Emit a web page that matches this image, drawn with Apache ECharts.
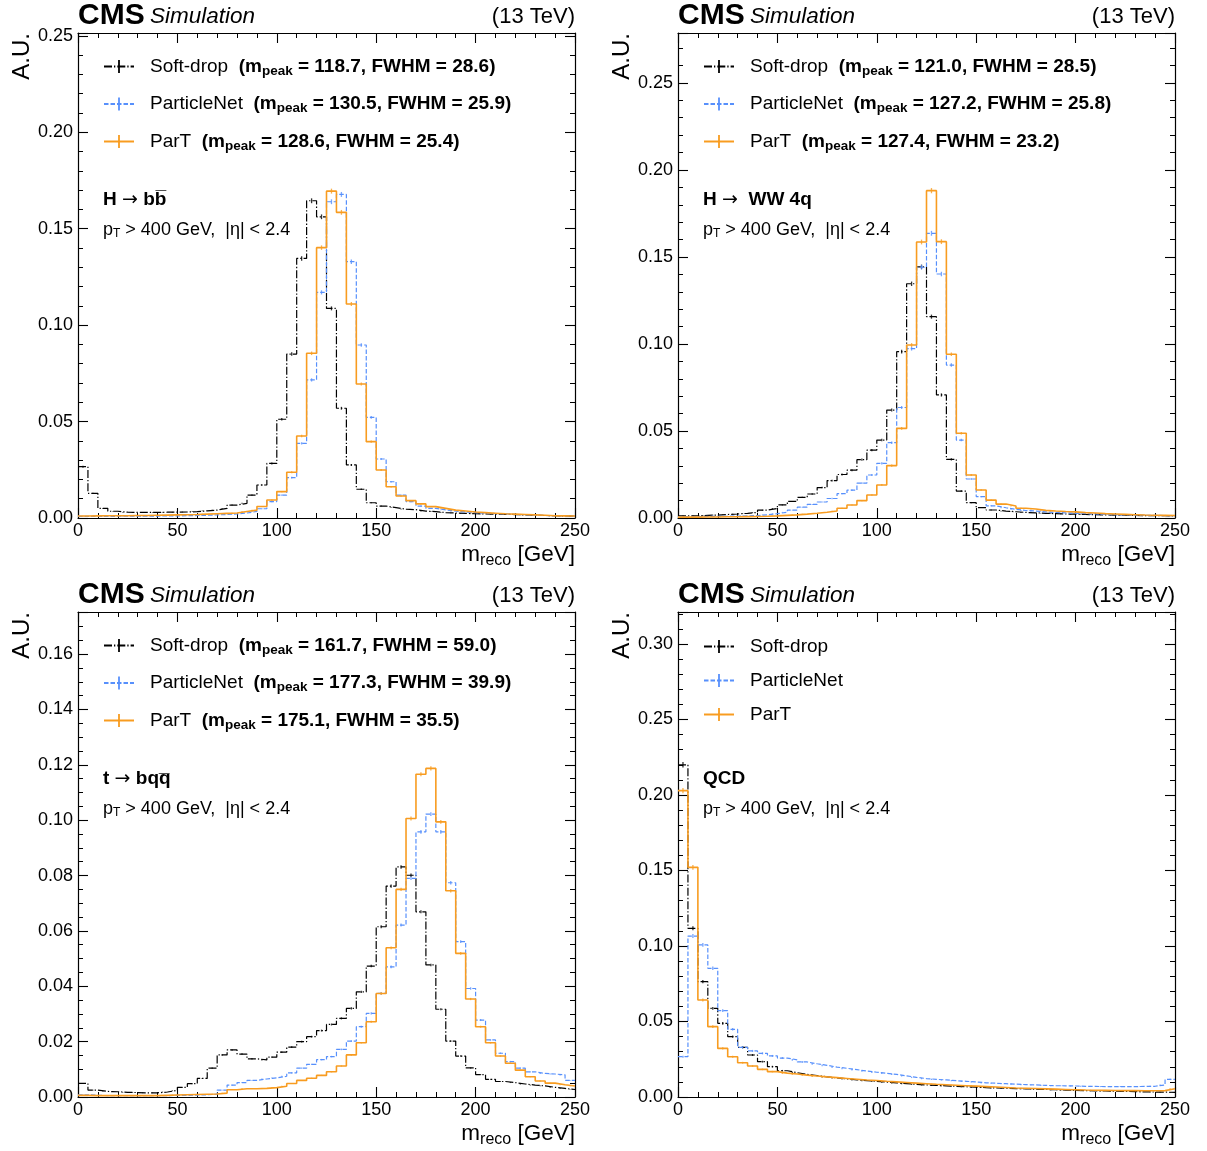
<!DOCTYPE html>
<html><head><meta charset="utf-8">
<script src="https://cdn.jsdelivr.net/npm/echarts@6/dist/echarts.min.js"></script>
<style>html,body{margin:0;padding:0;background:#fff}#c{width:1207px;height:1151px}</style>
</head><body><div id="c"></div>
<script>
// ---------------- DATA ----------------
const binLow = [0,5,10,15,20,25,30,35,40,45,50,55,60,65,70,75,80,85,90,95,100,105,110,115,120,125,130,135,140,145,150,155,160,165,170,175,180,185,190,195,200,205,210,215,220,225,230,235,240,245];
const binWidth = 5;

const seriesNames = ['Soft-drop','ParticleNet','ParT'];

// H -> bb
const hbb_sd   = [0.0266,0.0128,0.0050,0.0035,0.0030,0.0029,0.0029,0.0029,0.0030,0.0030,0.0031,0.0033,0.0037,0.0041,0.0050,0.0067,0.0076,0.0119,0.0171,0.0283,0.0512,0.0850,0.1346,0.1645,0.1562,0.1087,0.0569,0.0275,0.0149,0.0079,0.0062,0.0054,0.0046,0.0043,0.0036,0.0033,0.0028,0.0026,0.0024,0.0022,0.0021,0.0020,0.0019,0.0018,0.0016,0.0015,0.0013,0.0012,0.0011,0.0010];
const hbb_pnet = [0.0008,0.0008,0.0008,0.0009,0.0009,0.0009,0.0010,0.0010,0.0011,0.0011,0.0012,0.0013,0.0014,0.0016,0.0018,0.0021,0.0026,0.0034,0.0048,0.0085,0.0119,0.0209,0.0387,0.0716,0.1170,0.1640,0.1678,0.1329,0.0897,0.0522,0.0306,0.0188,0.0119,0.0085,0.0062,0.0050,0.0042,0.0036,0.0031,0.0028,0.0025,0.0023,0.0021,0.0019,0.0017,0.0015,0.0013,0.0012,0.0011,0.0010];
const hbb_part = [0.0010,0.0011,0.0012,0.0012,0.0012,0.0013,0.0013,0.0014,0.0015,0.0016,0.0017,0.0018,0.0020,0.0022,0.0024,0.0026,0.0034,0.0041,0.0060,0.0093,0.0137,0.0237,0.0425,0.0854,0.1402,0.1695,0.1585,0.1110,0.0695,0.0396,0.0249,0.0162,0.0114,0.0090,0.0073,0.0059,0.0050,0.0041,0.0036,0.0031,0.0028,0.0025,0.0022,0.0020,0.0018,0.0016,0.0014,0.0012,0.0011,0.0010];
const hbb_mpeak = [118.7,130.5,128.6];
const hbb_fwhm  = [28.6,25.9,25.4];

// H -> WW 4q
const hww_sd   = [0.0012,0.0013,0.0015,0.0017,0.0020,0.0023,0.0027,0.0032,0.0045,0.0055,0.0075,0.0095,0.0118,0.0138,0.0175,0.0215,0.0250,0.0275,0.0335,0.0390,0.0448,0.0620,0.0956,0.1346,0.1443,0.1157,0.0707,0.0337,0.0155,0.0088,0.0060,0.0046,0.0040,0.0036,0.0032,0.0030,0.0027,0.0025,0.0023,0.0022,0.0020,0.0019,0.0018,0.0017,0.0016,0.0015,0.0014,0.0013,0.0013,0.0012];
const hww_pnet = [0.0008,0.0008,0.0009,0.0010,0.0010,0.0011,0.0012,0.0014,0.0018,0.0025,0.0033,0.0045,0.0062,0.0078,0.0092,0.0112,0.0140,0.0160,0.0200,0.0247,0.0314,0.0433,0.0635,0.0973,0.1441,0.1636,0.1402,0.0879,0.0448,0.0224,0.0123,0.0070,0.0059,0.0050,0.0043,0.0040,0.0035,0.0032,0.0030,0.0027,0.0025,0.0023,0.0021,0.0019,0.0018,0.0017,0.0016,0.0015,0.0014,0.0013];
const hww_part = [0.0005,0.0005,0.0006,0.0006,0.0007,0.0007,0.0008,0.0009,0.0010,0.0012,0.0015,0.0018,0.0022,0.0027,0.0033,0.0040,0.0056,0.0075,0.0100,0.0132,0.0190,0.0301,0.0515,0.0994,0.1586,0.1881,0.1588,0.0941,0.0487,0.0247,0.0161,0.0103,0.0080,0.0069,0.0056,0.0052,0.0044,0.0040,0.0037,0.0035,0.0031,0.0029,0.0025,0.0023,0.0021,0.0019,0.0017,0.0016,0.0015,0.0014];
const hww_mpeak = [121.0,127.2,127.4];
const hww_fwhm  = [28.5,25.8,23.2];

// t -> bqq
const top_sd   = [0.0049,0.0025,0.0020,0.0019,0.0017,0.0016,0.0015,0.0015,0.0018,0.0024,0.0035,0.0048,0.0067,0.0104,0.0152,0.0170,0.0155,0.0138,0.0134,0.0144,0.0162,0.0180,0.0200,0.0218,0.0240,0.0262,0.0284,0.0320,0.0380,0.0473,0.0615,0.0762,0.0831,0.0801,0.0669,0.0477,0.0317,0.0202,0.0148,0.0105,0.0081,0.0064,0.0056,0.0052,0.0047,0.0043,0.0040,0.0035,0.0031,0.0027];
const top_pnet = [0.0008,0.0006,0.0005,0.0005,0.0005,0.0005,0.0005,0.0005,0.0005,0.0006,0.0006,0.0007,0.0008,0.0010,0.0025,0.0043,0.0052,0.0060,0.0065,0.0069,0.0075,0.0087,0.0104,0.0118,0.0135,0.0146,0.0172,0.0202,0.0254,0.0302,0.0374,0.0470,0.0621,0.0790,0.0958,0.1022,0.0958,0.0774,0.0561,0.0392,0.0278,0.0206,0.0158,0.0128,0.0104,0.0091,0.0085,0.0083,0.0080,0.0060];
const top_part = [0.0006,0.0005,0.0005,0.0005,0.0005,0.0005,0.0005,0.0005,0.0006,0.0007,0.0008,0.0009,0.0010,0.0011,0.0014,0.0026,0.0030,0.0030,0.0031,0.0034,0.0039,0.0049,0.0060,0.0068,0.0078,0.0091,0.0112,0.0152,0.0196,0.0272,0.0374,0.0539,0.0750,0.1006,0.1166,0.1187,0.0994,0.0745,0.0519,0.0354,0.0254,0.0196,0.0148,0.0122,0.0097,0.0073,0.0058,0.0050,0.0044,0.0040];
const top_mpeak = [161.7,177.3,175.1];
const top_fwhm  = [59.0,39.9,35.5];

// QCD
const qcd_sd   = [0.2200,0.1117,0.0764,0.0587,0.0488,0.0400,0.0329,0.0278,0.0234,0.0201,0.0174,0.0161,0.0150,0.0142,0.0133,0.0127,0.0120,0.0114,0.0109,0.0104,0.0099,0.0094,0.0089,0.0084,0.0080,0.0077,0.0074,0.0071,0.0068,0.0065,0.0062,0.0060,0.0058,0.0056,0.0054,0.0052,0.0050,0.0048,0.0046,0.0044,0.0042,0.0041,0.0040,0.0038,0.0037,0.0036,0.0034,0.0033,0.0032,0.0031];
const qcd_pnet = [0.0267,0.1066,0.1007,0.0852,0.0572,0.0448,0.0329,0.0305,0.0289,0.0272,0.0258,0.0246,0.0232,0.0220,0.0210,0.0198,0.0190,0.0181,0.0172,0.0164,0.0157,0.0150,0.0140,0.0130,0.0122,0.0117,0.0113,0.0108,0.0104,0.0100,0.0094,0.0091,0.0088,0.0085,0.0082,0.0080,0.0077,0.0075,0.0074,0.0073,0.0071,0.0070,0.0069,0.0069,0.0069,0.0069,0.0070,0.0071,0.0080,0.0117];
const qcd_part = [0.2029,0.1521,0.0642,0.0466,0.0322,0.0267,0.0227,0.0205,0.0183,0.0168,0.0158,0.0152,0.0145,0.0139,0.0133,0.0128,0.0123,0.0118,0.0113,0.0109,0.0104,0.0100,0.0096,0.0092,0.0088,0.0084,0.0081,0.0078,0.0075,0.0072,0.0069,0.0066,0.0063,0.0060,0.0058,0.0056,0.0054,0.0052,0.0050,0.0048,0.0046,0.0045,0.0044,0.0043,0.0042,0.0042,0.0041,0.0041,0.0042,0.0055];

// y-axis settings per panel
const yMaxes      = [0.2515, 0.2787, 0.1752, 0.3212];
const yIntervals  = [0.05, 0.05, 0.02, 0.05];
const yMinorSplit = [5, 5, 4, 5];

// ---------------- STYLE / LAYOUT ----------------
const FF = '"Liberation Sans", Arial, Helvetica, sans-serif';
const FA = '"DejaVu Sans", sans-serif';
const COLORS = ['#000000', '#5790fc', '#f89c20'];
const DASH = [[8, 2, 1.3, 2], [4.5, 2], 'solid'];
const LW = [1.2, 1.2, 1.6];
const PW = 497, PH = 485;
const POS = [[78, 33], [678, 33], [78, 612], [678, 612]];
const legendGap = [14.5, 14.5, 14.5, 12];
const legendTop = [22, 22, 22, 23.5];

const panels = [
  {data: [hbb_sd, hbb_pnet, hbb_part], mpeak: hbb_mpeak, fwhm: hbb_fwhm, proc: ['H', ' bb\u0305']},
  {data: [hww_sd, hww_pnet, hww_part], mpeak: hww_mpeak, fwhm: hww_fwhm, proc: ['H', '  WW 4q']},
  {data: [top_sd, top_pnet, top_part], mpeak: top_mpeak, fwhm: top_fwhm, proc: ['t', ' bqq\u0305']},
  {data: [qcd_sd, qcd_pnet, qcd_part], mpeak: null, fwhm: null, proc: ['QCD']}
];

const BAR = 'path://M0,5L10,5L10,5.01L0,5.01ZM4.3,0L5.7,0L5.7,10L4.3,10Z';

const grids = [], xAxes = [], yAxes = [], series = [], legends = [], graphics = [];
const legendText = {};

function axisCommon(showLabel) {
  return {
    axisLine: {show: true, onZero: false, lineStyle: {color: '#000', width: 1.2}},
    axisTick: {show: true, inside: true, length: 10, lineStyle: {color: '#000', width: 1.1}},
    minorTick: {show: true, length: 5, lineStyle: {color: '#000', width: 1}},
    splitLine: {show: false},
    axisLabel: {show: showLabel, color: '#000', fontSize: 18, fontFamily: FF}
  };
}

panels.forEach((p, g) => {
  const [L, T] = POS[g];
  grids.push({left: L, top: T, width: PW, height: PH, containLabel: false});
  ['bottom', 'top'].forEach((pos, k) => {
    const a = axisCommon(k === 0);
    a.minorTick.splitNumber = 5;
    a.axisLabel.margin = 4;
    xAxes.push(Object.assign(a, {
      type: 'value', gridIndex: g, position: pos, min: 0, max: 250, interval: 50
    }));
  });
  ['left', 'right'].forEach((pos, k) => {
    const a = axisCommon(k === 0);
    const iv = yIntervals[g];
    a.minorTick.splitNumber = yMinorSplit[g];
    a.axisLabel.margin = 5;
    a.axisLabel.formatter = v => {
      const r = v / iv;
      return Math.abs(r - Math.round(r)) < 1e-6 ? v.toFixed(2) : '';
    };
    yAxes.push(Object.assign(a, {
      type: 'value', gridIndex: g, position: pos, min: 0, max: yMaxes[g], interval: iv
    }));
  });

  const names = [];
  p.data.forEach((arr, s) => {
    const nm = seriesNames[s] + '#' + g;
    names.push(nm);
    legendText[nm] = p.mpeak
      ? '{g|}{n|' + seriesNames[s] + '}{b|  (m}{s|peak}{b| = ' + p.mpeak[s].toFixed(1) + ', FWHM = ' + p.fwhm[s].toFixed(1) + ')}'
      : '{g|}{n|' + seriesNames[s] + '}';
    const stepData = binLow.map((x, i) => [x, arr[i]]);
    stepData.push([binLow[binLow.length - 1] + binWidth, arr[arr.length - 1]]);
    series.push({
      name: nm, type: 'line', step: 'end', xAxisIndex: 2 * g, yAxisIndex: 2 * g,
      data: stepData, showSymbol: false, symbol: BAR, silent: true,
      color: COLORS[s], itemStyle: {color: COLORS[s]},
      lineStyle: {color: COLORS[s], width: LW[s], type: DASH[s]},
      emphasis: {disabled: true}, z: 2 + s
    });
    series.push({
      name: nm + ' err', type: 'scatter', xAxisIndex: 2 * g, yAxisIndex: 2 * g,
      data: binLow.map((x, i) => [x + binWidth / 2, arr[i]]),
      symbol: 'rect', symbolSize: v => [1.3, Math.max(0.6, 12 * Math.sqrt(v[1]))],
      itemStyle: {color: COLORS[s]}, silent: true, emphasis: {disabled: true}, z: 2 + s
    });
  });

  legends.push({
    data: names, orient: 'vertical', left: L + 25, top: T + legendTop[g], padding: 0,
    itemWidth: 30, itemHeight: 16, itemGap: legendGap[g], selectedMode: false,
    formatter: nm => legendText[nm],
    textStyle: {
      color: '#000', fontFamily: FF, lineHeight: 22,
      rich: {
        g: {width: 11, lineHeight: 22},
        n: {fontSize: 19, lineHeight: 22, color: '#000', fontFamily: FF},
        b: {fontSize: 19, fontWeight: 'bold', lineHeight: 22, color: '#000', fontFamily: FF},
        s: {fontSize: 13.5, fontWeight: 'bold', lineHeight: 13, padding: [9, 0, 0, 0], color: '#000', fontFamily: FF}
      }
    }
  });

  const procText = p.proc.length > 1 ? '{t|' + p.proc[0] + ' }{a|→}{t|' + p.proc[1] + '}' : '{t|' + p.proc[0] + '}';

  graphics.push(
    {type: 'text', x: L, y: T - 17, silent: true,
     style: {text: 'CMS', fontFamily: FF, fontWeight: 'bold', fontSize: 30, fill: '#000', align: 'left', verticalAlign: 'middle'}},
    {type: 'text', x: L + 72, y: T - 16, silent: true,
     style: {text: 'Simulation', fontFamily: FF, fontStyle: 'italic', fontSize: 22.5, fill: '#000', align: 'left', verticalAlign: 'middle'}},
    {type: 'text', x: L + PW, y: T - 16, silent: true,
     style: {text: '(13 TeV)', fontFamily: FF, fontSize: 22, fill: '#000', align: 'right', verticalAlign: 'middle'}},
    {type: 'text', x: L - 56, y: T, rotation: Math.PI / 2, silent: true,
     style: {text: 'A.U.', fontFamily: FF, fontSize: 24, fill: '#000', align: 'right', verticalAlign: 'middle'}},
    {type: 'text', x: L + PW, y: T + PH + 37, silent: true,
     style: {text: '{m|m}{s|reco}{m| [GeV]}', align: 'right', verticalAlign: 'middle',
       rich: {m: {fontFamily: FF, fontSize: 22.5, fill: '#000', lineHeight: 26},
              s: {fontFamily: FF, fontSize: 16, fill: '#000', lineHeight: 15, padding: [11, 0, 0, 0]}}}},
    {type: 'text', x: L + 25, y: T + 167, silent: true,
     style: {text: procText, align: 'left', verticalAlign: 'middle',
       rich: {t: {fontFamily: '"Liberation Sans", "DejaVu Sans", sans-serif', fontWeight: 'bold', fontSize: 19, fill: '#000', lineHeight: 24},
              a: {fontFamily: FA, fontSize: 19, fill: '#000', lineHeight: 24}}}},
    {type: 'text', x: L + 25, y: T + 197, silent: true,
     style: {text: '{m|p}{s|T}{m| > 400 GeV,  |η| < 2.4}', align: 'left', verticalAlign: 'middle',
       rich: {m: {fontFamily: FF, fontSize: 18, fill: '#000', lineHeight: 20},
              s: {fontFamily: FF, fontSize: 12, fill: '#000', lineHeight: 11, padding: [8, 0, 0, 0]}}}}
  );
});

const chart = echarts.init(document.getElementById('c'), null, {renderer: 'canvas'});
chart.setOption({
  animation: false,
  backgroundColor: '#ffffff',
  grid: grids, xAxis: xAxes, yAxis: yAxes, series: series, legend: legends,
  graphic: {elements: graphics}
});
</script></body></html>
